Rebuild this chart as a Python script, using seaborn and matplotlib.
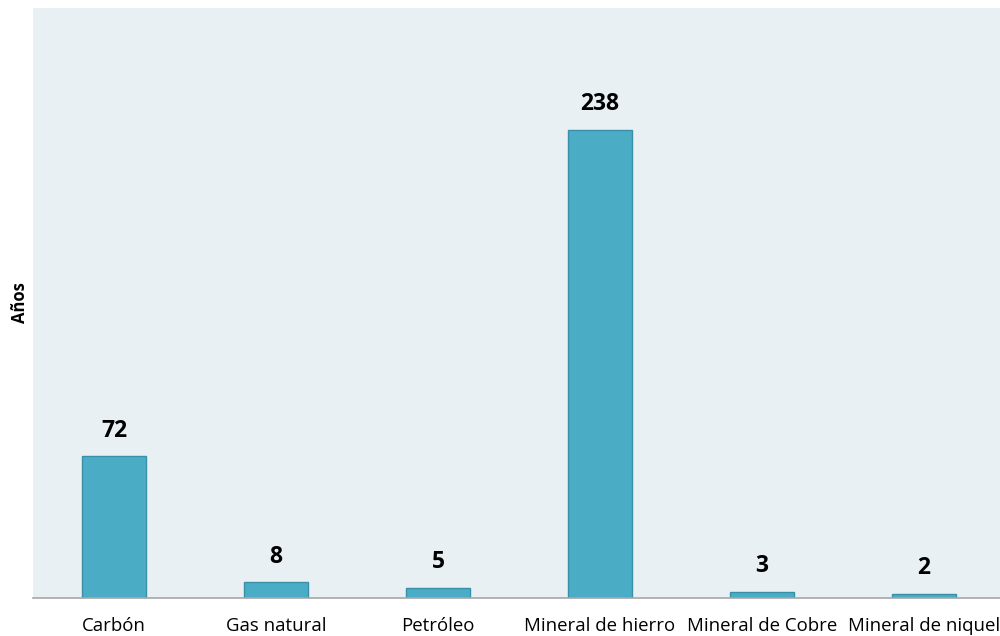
import seaborn as sns
import matplotlib.pyplot as plt
import pandas as pd

categorias = ['Carbón', 'Gas natural', 'Petróleo', 'Mineral de hierro', 'Mineral de Cobre', 'Mineral de niquel']
anios = [72, 8, 5, 238, 3, 2]

df = pd.DataFrame({'recurso': categorias, 'anios': anios})

sns.set_style('white')
plt.rcParams['font.family'] = ['Open Sans', 'DejaVu Sans']
plt.rcParams['text.color'] = 'black'
plt.rcParams['axes.labelcolor'] = 'black'
plt.rcParams['xtick.color'] = 'black'

fig = plt.figure(figsize=(10, 6.36), dpi=100)
ax = fig.add_axes([0.033, 0.0597, 0.972, 0.928])
ax.set_facecolor('#E8F0F4')

sns.barplot(data=df, x='recurso', y='anios', color='#4BACC6', saturation=1,
            width=0.4, edgecolor='#3A8FA8', linewidth=1, ax=ax)

for i, v in enumerate(anios):
    ax.text(i, v + 7, str(v), ha='center', va='bottom', fontsize=16.5, fontweight='bold')

ax.set_ylim(0, 300)
ax.set_xlim(-0.5, 5.5)
ax.set_yticks([])
ax.set_xlabel('')
ax.set_ylabel('Años', fontsize=12, fontweight='bold', labelpad=3)
ax.tick_params(axis='x', length=0, pad=14, labelsize=13.4)
for s in ['top', 'left', 'right']:
    ax.spines[s].set_visible(False)
ax.spines['bottom'].set_color('#A6A6A6')
ax.spines['bottom'].set_linewidth(1.2)

fig.savefig('out.png', dpi=100)
